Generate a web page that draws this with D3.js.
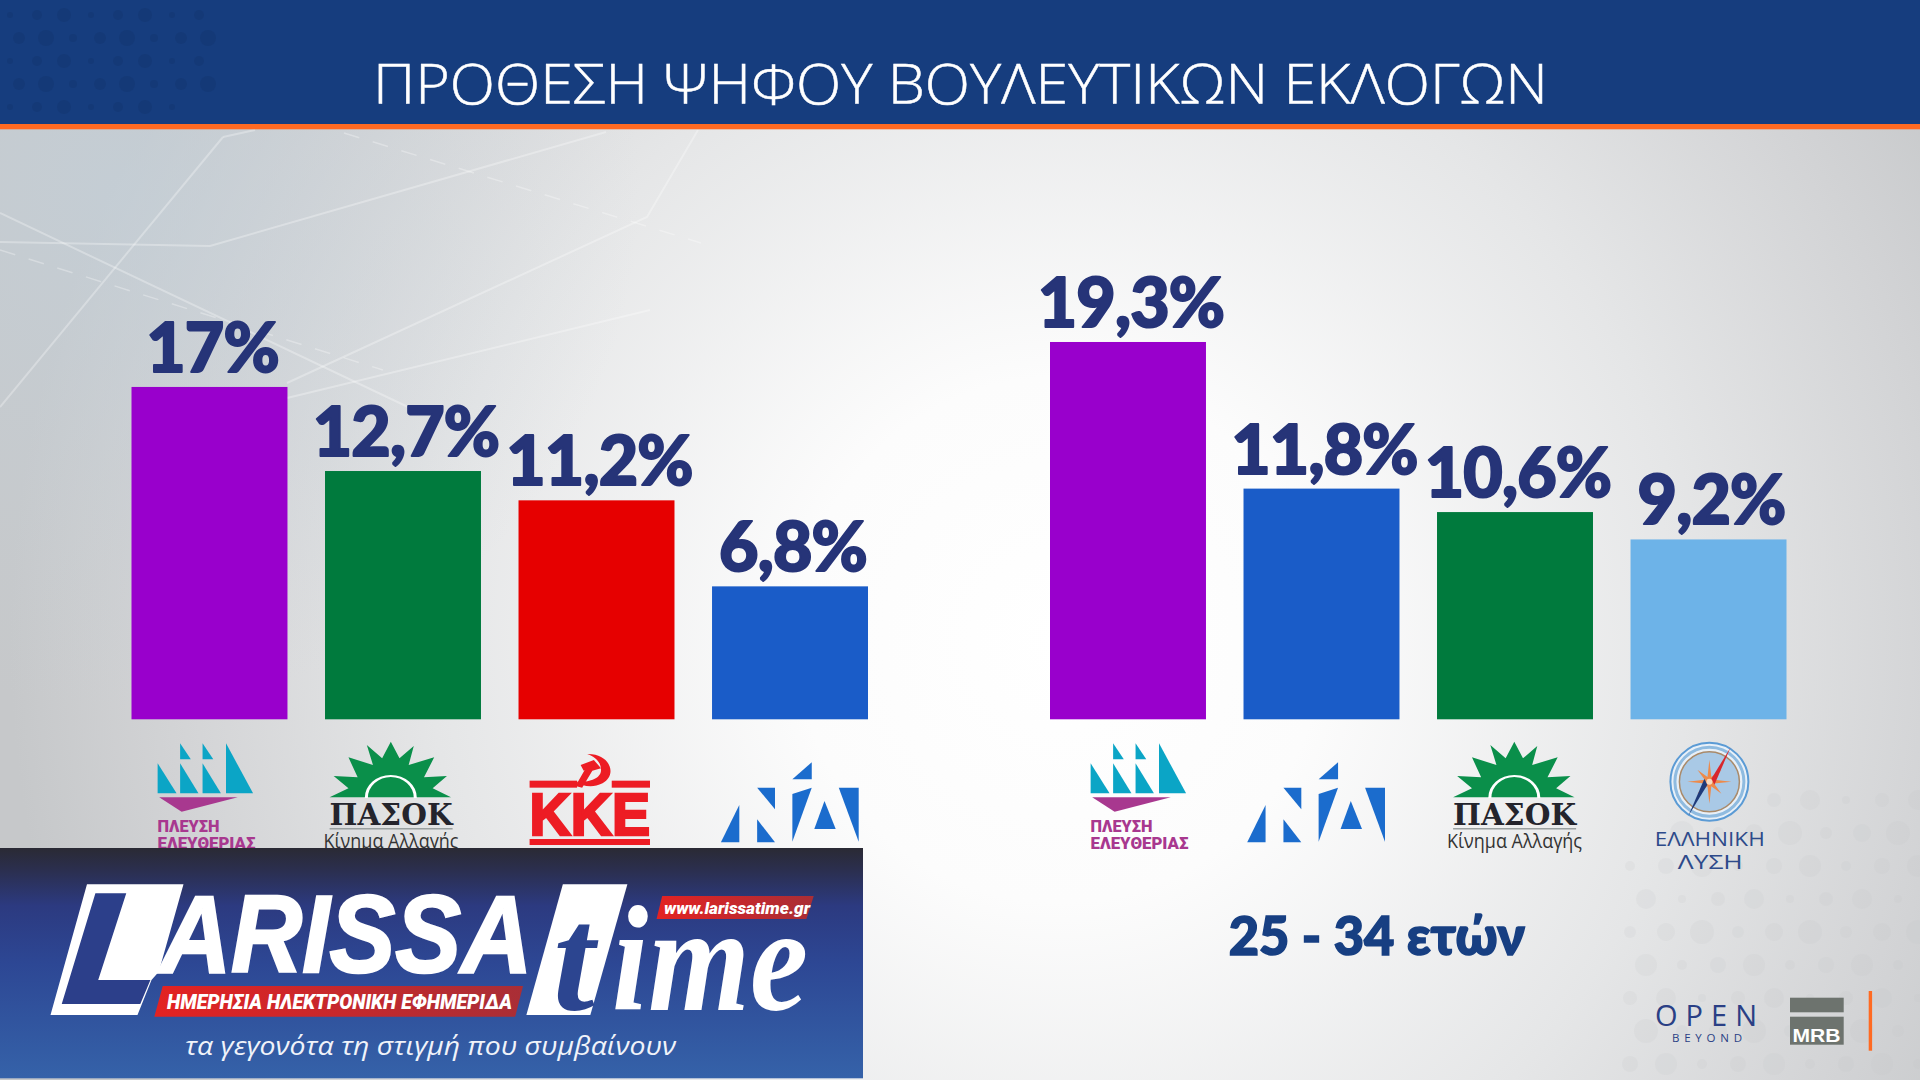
<!DOCTYPE html>
<html><head><meta charset="utf-8">
<script src="https://cdn.jsdelivr.net/npm/d3@7"></script>
<style>html,body{margin:0;padding:0;background:#fff}svg{display:block}</style></head>
<body><svg id="c" width="1920" height="1080" viewBox="0 0 1920 1080"></svg>
<script>
const title = "ΠΡΟΘΕΣΗ ΨΗΦΟΥ ΒΟΥΛΕΥΤΙΚΩΝ ΕΚΛΟΓΩΝ";
const subtitle = "25 - 34 ετών";
const partiesAll = ["Πλεύση Ελευθερίας","ΠΑΣΟΚ","ΚΚΕ","ΝΔ"];
const valuesAll = [17,12.7,11.2,6.8];
const labelsAll = ["17%","12,7%","11,2%","6,8%"];
const parties2534 = ["Πλεύση Ελευθερίας","ΝΔ","ΠΑΣΟΚ","Ελληνική Λύση"];
const values2534 = [19.3,11.8,10.6,9.2];
const labels2534 = ["19,3%","11,8%","10,6%","9,2%"];
const partyNames = ["Πλεύση Ελευθερίας","ΠΑΣΟΚ","ΚΚΕ","ΝΔ","Ελληνική Λύση"];
const partyColors = ["#9900cc","#007a3d","#e60000","#1a5cc8","#6db3e8"];

const svg = d3.select("#c");
const defs = svg.append("defs");
function grad(id,type,attrs,stops){const g=defs.append(type).attr("id",id);
  Object.entries(attrs).forEach(([k,v])=>g.attr(k,v));
  stops.forEach(s=>g.append("stop").attr("offset",s[0]).attr("stop-color",s[1]).attr("stop-opacity",s[2]===undefined?1:s[2]));}
grad("bg","radialGradient",{gradientUnits:"userSpaceOnUse",cx:1060,cy:640,r:1050},[[0,"#ffffff"],[.25,"#fcfcfc"],[.6,"#e5e6e7"],[.85,"#d2d3d5"],[1,"#c6c8ca"]]);
grad("bl","radialGradient",{gradientUnits:"userSpaceOnUse",cx:120,cy:190,r:520},[[0,"#c3d0da",.65],[1,"#c8d0d6",0]]);
grad("panel","linearGradient",{x1:0,y1:0,x2:0,y2:1},[[0,"#2a2a34"],[.1,"#2b2f50"],[.25,"#2c3a80"],[.5,"#2d4794"],[1,"#3562a9"]]);
grad("red1","linearGradient",{x1:0,y1:0,x2:1,y2:0},[[0,"#e32222"],[1,"#a92e36"]]);

// background
svg.append("rect").attr("width",1920).attr("height",1080).attr("fill","url(#bg)");
svg.append("rect").attr("width",1000).attr("height",720).attr("y",129).attr("fill","url(#bl)");
const lines=[[[223,137],[0,407]],[[223,137],[255,130]],[[0,242],[210,246],[606,132]],[[0,213],[408,407]],[[698,130],[647,217],[287,383]],[[287,398],[650,310]]];
svg.append("g").selectAll("path").data(lines).join("path").attr("d",d3.line()).attr("fill","none").attr("stroke","#fff").attr("stroke-opacity",.3).attr("stroke-width",2);
const dashes=[[[344,133],[701,243]],[[0,250],[383,370]]];
svg.append("g").selectAll("path").data(dashes).join("path").attr("d",d3.line()).attr("fill","none").attr("stroke","#fff").attr("stroke-opacity",.3).attr("stroke-width",1.5).attr("stroke-dasharray","16 14");
// blob texture, bottom-right and header
const tex=svg.append("g").attr("fill","#c4c6c8").attr("opacity",.16);
for(let i=0;i<9;i++)for(let j=0;j<9;j++){const x=1630+i*36+(j%2)*16,y=800+j*33;if(x+y>2480&&x<1925)tex.append("circle").attr("cx",x).attr("cy",y).attr("r",4+(i*3+j*5)%9);}
// header
svg.append("rect").attr("width",1920).attr("height",124).attr("fill","#163d7e");
const htex=svg.append("g").attr("fill","#123268").attr("opacity",.3);
for(let i=0;i<8;i++)for(let j=0;j<5;j++){const x=10+i*27+(j%2)*9,y=15+j*23;if(x<300-j*30)htex.append("circle").attr("cx",x).attr("cy",y).attr("r",3+(i*2+j*3)%6);}
svg.append("rect").attr("y",124).attr("width",1920).attr("height",5.3).attr("fill","#ff6a22");
svg.append("text").attr("x",373).attr("y",104).attr("textLength",1175).attr("lengthAdjust","spacingAndGlyphs")
  .attr("font-family","Open Sans").attr("font-weight",300).attr("font-size",55).attr("fill","#fff").attr("stroke","#fff").attr("stroke-width",.5).text(title);

// charts
const y=d3.scaleLinear().domain([0,20]).range([719.3,328.3]);
const color=d3.scaleOrdinal().domain(partyNames).range(partyColors);
function chart(cats,vals,labs,x0,x1,cls){
  const x=d3.scaleBand().domain(cats).range([x0,x1]).paddingInner(.194).paddingOuter(0);
  const g=svg.append("g").attr("class",cls);
  g.selectAll("rect").data(cats).join("rect").attr("x",d=>x(d)).attr("width",x.bandwidth())
    .attr("y",(d,i)=>y(vals[i])).attr("height",(d,i)=>y(0)-y(vals[i])).attr("fill",d=>color(d));
  g.selectAll("text").data(cats).join("text").attr("x",d=>x(d)+x.bandwidth()/2+3).attr("y",(d,i)=>y(vals[i])-15)
    .attr("text-anchor","middle").attr("font-family","Lato").attr("font-weight",900).attr("font-size",68).attr("letter-spacing",-.8)
    .attr("fill","#263478").attr("stroke","#263478").attr("stroke-width",2).attr("stroke-linejoin","round").text((d,i)=>labs[i]);
  return x;
}
chart(partiesAll,valuesAll,labelsAll,131.5,868,"all");
chart(parties2534,values2534,labels2534,1050,1786.5,"young");

// --- logos (coordinates traced in a 1.96 x 3 space, then scaled)
function logoG(ox,oy=720){return svg.append("g").attr("transform",`translate(${ox},${oy}) scale(${1/1.96},${1/3})`);}
function polys(g,pts,fill){g.append("g").attr("fill",fill).selectAll("polygon").data(pts).join("polygon").attr("points",d=>d.map(p=>p.join(",")).join(" "));}
function txt(x,y,s,size,fam,weight,fill,len,extra={}){const t=svg.append("text").attr("x",x).attr("y",y).attr("font-size",size).attr("font-family",fam).attr("font-weight",weight).attr("fill",fill).text(s);
  if(len)t.attr("textLength",len).attr("lengthAdjust","spacingAndGlyphs");Object.entries(extra).forEach(([k,v])=>t.attr(k,v));return t;}

function sail(dx){
  const g=logoG(100+dx);
  polys(g,[[[113,130],[113,220],[150,220]],[[157,130],[157,220],[193,220]],[[157,70],[157,118],[178,118]],[[201,130],[201,220],[237,220]],[[201,70],[201,118],[222,118]],[[247,70],[247,220],[300,220]]],"#0ba5c6");
  polys(g,[[[116,232],[270,232],[160,275]]],"#a8388f");
  txt(157.5+dx,832,"ΠΛΕΥΣΗ",16.5,"Roboto",900,"#a8388f",62);
  txt(157.5+dx,849,"ΕΛΕΥΘΕΡΙΑΣ",16.5,"Roboto",900,"#a8388f",98);
}
function pasok(dx){
  const g=logoG(100+dx);
  polys(g,[[[450,232],[487,205],[458,168],[505,172],[487,112],[535,135],[523,75],[553,115],[570,65],[587,115],[615,78],[605,135],[655,112],[635,172],[680,168],[652,205],[688,232]]],"#0a8f4a");
  g.append("path").attr("d","M522,234 A48,66 0 0 1 618,234").attr("fill","none").attr("stroke","#fff").attr("stroke-width",6);
  txt(329.6+dx,825,"ΠΑΣΟΚ",30,"DejaVu Serif",700,"#24242c",123);
  svg.append("rect").attr("x",329.6+dx).attr("y",828).attr("width",123).attr("height",1.5).attr("fill","#9aa0a0");
  txt(323.5+dx,848,"Κίνημα Αλλαγής",19.5,"Open Sans",400,"#333",135);
}
function nd(dx){
  const g=logoG(100+dx);
  polys(g,[[[1395,127],[1395,178],[1357,178]],[[1288,203],[1323,203],[1323,268]],[[1253,255],[1253,367],[1217,367]],[[1288,298],[1323,367],[1288,367]],[[1357,222],[1395,203],[1357,365]],[[1420,243],[1442,327],[1400,327]],[[1448,203],[1487,203],[1487,365]]],"#1b6ccd");
}
sail(0); pasok(0);
// KKE
{
  const red="#ed1c24",g=logoG(100);
  g.append("rect").attr("x",842).attr("y",182).attr("width",93).attr("height",21).attr("fill",red);
  g.append("rect").attr("x",1003).attr("y",182).attr("width",75).attr("height",21).attr("fill",red);
  g.append("rect").attr("x",842).attr("y",357).attr("width",236).attr("height",18).attr("fill",red);
  g.append("path").attr("d","M955,102 C1000,100 1015,165 985,190 C965,205 945,198 932,185 C955,188 982,178 982,150 C982,125 970,110 955,102Z").attr("fill",red);
  g.append("path").attr("d","M942,135 L968,120 L982,145 L965,152 L945,203 L932,198 L950,150 L948,152Z").attr("fill",red);
  txt(529.6,834.5,"ΚΚΕ",59,"Liberation Sans",700,red,120.5,{stroke:red,"stroke-width":2.6});
}
nd(0);
sail(933); nd(526.3); pasok(1123.5);
// Elliniki Lysi
{
  const c=svg.append("g").attr("transform","translate(1709.4,781.7)");
  c.append("circle").attr("r",39).attr("fill","#e8f0f8").attr("stroke","#5b9bd5").attr("stroke-width",2);
  c.append("circle").attr("r",34.5).attr("fill","none").attr("stroke","#8fbbe0").attr("stroke-width",3);
  c.append("circle").attr("r",30).attr("fill","#a9c9e6").attr("stroke","#a98a6a").attr("stroke-width",1.5);
  const star=[];for(let i=0;i<16;i++){const a=i*Math.PI/8,r=i%2?5:(i%4?17:22);star.push([r*Math.sin(a),-r*Math.cos(a)]);}
  c.append("polygon").attr("points",star.map(p=>p.join(",")).join(" ")).attr("fill","#ee8a4a");
  c.append("polygon").attr("points","2,-3 21,-34 5,3").attr("fill","#d8262c");
  c.append("polygon").attr("points","-2,3 -21,34 -5,-3").attr("fill","#1f3a7a");
  c.append("circle").attr("r",3).attr("fill","#f5d9c0");
  txt(1654.8,846,"ΕΛΛΗΝΙΚΗ",19.5,"Open Sans",400,"#2d4a8a",110);
  txt(1677.8,869,"ΛΥΣΗ",19.5,"Open Sans",400,"#2d4a8a",65);
}
txt(1228.8,955,subtitle,53,"Lato",900,"#173f82",296,{stroke:"#173f82","stroke-width":1.6});

// footer logos
txt(1655,1026,"OPEN",29,"Open Sans",400,"#2a3f85",102,{"lengthAdjust":"spacing"});
txt(1672,1042,"BEYOND",11.5,"Open Sans",400,"#2a3f85",70,{"lengthAdjust":"spacing"});
svg.append("rect").attr("x",1790).attr("y",997.7).attr("width",53.7).attr("height",14.6).attr("fill","#6d736e");
svg.append("rect").attr("x",1790).attr("y",1016.7).attr("width",53.7).attr("height",28).attr("fill","#6d736e");
txt(1792.5,1041.7,"MRB",19,"Liberation Sans",700,"#fff",48);
svg.append("rect").attr("x",1868.7).attr("y",991).attr("width",3.4).attr("height",59.7).attr("fill","#ff6a22");

// Larissa panel
svg.append("rect").attr("y",848).attr("width",863).attr("height",230.3).attr("fill","url(#panel)");
const P=svg.append("g").attr("transform",`translate(0,840) scale(${1/1.782},${1/3})`);
P.append("polygon").attr("points","155,133 327,133 283,395 270,420 245,525 90,525").attr("fill","#fff");
P.append("polygon").attr("points","170,160 225,160 175,420 268,420 250,492 110,492").attr("fill","#2c3f8a");
txt(160,972,"ARISSA",110,"Liberation Sans",700,"#fff",372,{"font-style":"italic",stroke:"#fff","stroke-width":2.5});
P.append("polygon").attr("points","1003,133 1118,133 1052,525 938,525").attr("fill","#fff");
txt(553,1010,"t",150,"Liberation Serif",700,"#2c4590",null,{"font-style":"italic"});
txt(612,1010,"ime",150,"Liberation Serif",700,"#fff",196,{"font-style":"italic"});
P.append("polygon").attr("points","290,438 932,438 918,530 275,530").attr("fill","url(#red1)");
txt(167,1009,"ΗΜΕΡΗΣΙΑ ΗΛΕΚΤΡΟΝΙΚΗ ΕΦΗΜΕΡΙΔΑ",19.5,"Roboto",900,"#fff",345,{"font-style":"italic"});
P.append("polygon").attr("points","1180,168 1450,168 1437,237 1170,237").attr("fill","url(#red1)");
txt(664,914,"www.larissatime.gr",16.5,"Roboto",900,"#fff",146,{"font-style":"italic"});
txt(185,1055,"τα γεγονότα τη στιγμή που συμβαίνουν",26,"Open Sans",400,"#f0f3fa",491,{"font-style":"italic"});
</script></body></html>
